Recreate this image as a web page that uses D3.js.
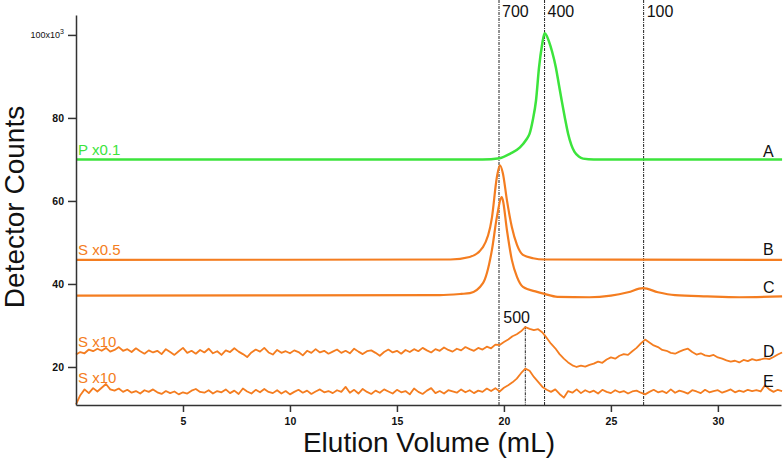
<!DOCTYPE html>
<html>
<head>
<meta charset="utf-8">
<script src="https://cdn.jsdelivr.net/npm/d3@7"></script>
<style>
  body { margin: 0; background: #fff; }
  svg { display: block; font-family: Arial, "Liberation Sans", sans-serif; }
  .tick text { font-size: 10.5px; font-weight: bold; fill: #111; }
  .tick line, .domain { stroke: #333; stroke-width: 1.5; }
</style>
</head>
<body>
<div id="chart"></div>
<script>
// elution volume (mL) / counts (x10^3)
const traceA = [[0, 70], [19.0, 70], [19.8, 70.3], [20.3, 71.4], [20.75, 72.9], [21.05, 74.8],
  [21.2, 76.2], [21.35, 79.5], [21.5, 84.2], [21.64, 92.1], [21.78, 97.5], [21.9, 100.4],
  [22.0, 99.8], [22.1, 98.5], [22.25, 96], [22.43, 92.1], [22.57, 88], [22.7, 84.2],
  [22.85, 80], [23.0, 76.2], [23.15, 73.5], [23.3, 71.8], [23.5, 70.7], [23.7, 70.2],
  [24.2, 70], [33, 70]];

const traceB = [[0, 45.8], [17.5, 45.9], [18.4, 46.5], [19.02, 48.9], [19.44, 56], [19.67, 65.7],
  [19.81, 68.6], [19.95, 66.7], [20.14, 60.2], [20.37, 53.7], [20.61, 49.4], [20.89, 47],
  [21.36, 46.2], [21.9, 45.9], [33, 45.8]];

const traceC = [[0, 37.2], [17.0, 37.3], [18.0, 37.6], [18.41, 37.8], [19.02, 40.2], [19.44, 48.2],
  [19.67, 56.1], [19.9, 60.9], [19.95, 60.2], [20.14, 53], [20.37, 45.8], [20.61, 41.7],
  [20.89, 39.3], [21.55, 38.1], [21.9, 37.6], [22.5, 36.9], [24.0, 36.8], [25.0, 37.2],
  [25.8, 38.0], [26.5, 39.0], [27.2, 38.0], [28.0, 37.3], [29.5, 37.0], [31.0, 36.8], [33, 37.0]];

// noisy traces sampled every 0.2 mL from 0 to 33
const noisyStep = 0.2;
const traceD = [
  23.0, 23.6, 23.3, 24.2, 23.8, 24.4, 23.9, 24.6, 23.7, 24.1,
  24.8, 23.9, 24.3, 23.6, 24.5, 23.8, 23.2, 24.0, 23.5, 23.9,
  23.1, 24.3, 23.6, 22.9, 23.8, 24.6, 23.4, 23.9, 23.2, 24.1,
  23.5, 24.4, 23.3, 23.8, 22.9, 24.0, 23.6, 24.5, 23.7, 23.1,
  22.4, 23.5, 24.2, 23.7, 24.6, 23.5, 23.0, 24.1, 23.4, 23.8,
  23.3, 24.0, 23.6, 22.8, 23.9, 23.4, 24.3, 23.5, 23.9, 23.2,
  23.7, 24.2, 23.4, 23.9, 23.3, 24.4, 23.7, 23.1, 23.8, 24.0,
  23.4, 22.7, 23.6, 24.2, 23.5, 23.9, 23.2, 24.1, 23.6, 24.3,
  23.8, 24.6, 24.0, 23.5, 24.3, 23.9, 24.7, 24.1, 23.7, 24.4,
  24.0, 24.8, 24.3, 23.9, 24.6, 24.2, 24.9, 24.5, 25.4, 25.3,
  26.0, 26.6, 27.4, 27.9, 28.6, 29.6, 29.2, 28.9, 29.1, 28.3,
  27.0, 25.6, 24.5, 23.1, 22.0, 21.1, 20.4, 20.0, 20.3, 20.1,
  20.5, 20.8, 21.3, 21.0, 21.8, 22.3, 22.0, 22.7, 23.1, 22.9,
  23.8, 24.6, 25.7, 26.6, 25.9, 25.2, 24.8, 24.1, 23.9, 23.4,
  23.2, 23.7, 24.1, 24.4, 23.6, 23.0, 23.3, 22.8, 22.6, 22.9,
  22.3, 22.0, 21.6, 21.3, 21.5, 21.1, 21.7, 21.4, 21.9, 21.6,
  21.8, 22.1, 21.9, 22.4, 23.0, 23.5];

const traceE = [
  11.0, 13.2, 14.6, 13.7, 14.9, 14.1, 15.0, 15.9, 14.6, 14.3,
  14.8, 14.0, 14.5, 13.8, 14.2, 13.6, 14.4, 14.0, 14.6, 13.9,
  13.5, 14.2, 13.7, 14.1, 13.4, 13.9, 13.6, 14.3, 14.7, 14.0,
  13.8, 14.4, 13.6, 14.2, 13.9, 14.6, 13.7, 14.3, 13.5, 14.8,
  14.1, 13.6, 14.5, 13.9, 14.7, 14.0, 13.7, 14.4, 13.6, 14.2,
  13.4, 14.0, 14.5, 13.8, 14.3, 13.5, 14.1, 14.6, 13.9, 14.2,
  13.7, 14.4, 14.0, 15.2, 13.8, 14.5, 13.6, 14.7, 14.0, 13.5,
  14.3, 13.8, 14.6, 14.1, 13.6, 14.5, 13.9, 14.2, 13.4, 14.8,
  14.0, 13.5, 14.3, 14.9, 13.7, 14.2, 13.6, 14.4, 14.1, 13.8,
  14.6, 13.9, 14.4, 13.7, 14.3, 14.0, 14.8, 14.2, 14.9, 14.1,
  15.0, 15.6, 16.3, 17.2, 18.5, 19.6, 19.1, 17.6, 16.4, 15.2,
  14.5, 14.0, 14.6, 13.5, 12.6, 14.2, 13.8, 14.6, 13.7, 14.4,
  13.9, 14.3, 13.6, 14.5, 14.0, 13.7, 14.4, 13.9, 14.2, 13.6,
  14.1, 14.3, 13.8, 13.4, 14.0, 14.5, 13.9, 14.2, 13.7, 14.6,
  13.8, 14.3, 14.0, 13.6, 14.4, 14.1, 13.7, 14.5, 13.9, 14.2,
  14.4, 13.8, 14.2, 14.6, 13.9, 14.3, 14.0, 14.5, 14.2, 14.4,
  14.1, 15.6, 14.6, 14.0, 14.5, 14.2];

const xTicks = [5, 10, 15, 20, 25, 30];
const yTicks = [20, 40, 60, 80, 100];

// molecular weight markers (kDa)
const markers = [
  { volume: 19.77, label: '700' },
  { volume: 21.9, label: '400' },
  { volume: 26.53, label: '100' }
];
const innerMarkers = [{ volume: 21.0, label: '500', top: 29.8 }];

const green = '#3ce43c';
const orange = '#f47d20';

const width = 784;
const height = 462;

const svg = d3.select('#chart')
  .append('svg')
  .attr('width', width)
  .attr('height', height);

const x = d3.scaleLinear().domain([0, 32.95]).range([76, 781]);
const y = d3.scaleLinear().domain([10.84, 104.8]).range([405, 15]);

// marker lines behind the traces
const dash = '3,1,1,1';
svg.append('g')
  .selectAll('line')
  .data(markers)
  .enter()
  .append('line')
  .attr('x1', d => x(d.volume))
  .attr('x2', d => x(d.volume))
  .attr('y1', 0)
  .attr('y2', y.range()[0])
  .attr('stroke', '#222')
  .attr('stroke-width', 1)
  .attr('stroke-dasharray', dash);

svg.append('g')
  .selectAll('text')
  .data(markers)
  .enter()
  .append('text')
  .attr('x', d => x(d.volume) + 3)
  .attr('y', 17)
  .attr('font-size', 16)
  .attr('fill', '#111')
  .text(d => d.label);

svg.append('g')
  .selectAll('line')
  .data(innerMarkers)
  .enter()
  .append('line')
  .attr('x1', d => x(d.volume))
  .attr('x2', d => x(d.volume))
  .attr('y1', d => y(d.top))
  .attr('y2', y.range()[0])
  .attr('stroke', '#222')
  .attr('stroke-width', 1)
  .attr('stroke-dasharray', dash);

svg.append('g')
  .selectAll('text')
  .data(innerMarkers)
  .enter()
  .append('text')
  .attr('x', d => x(d.volume) - 22)
  .attr('y', 323)
  .attr('font-size', 16)
  .attr('fill', '#111')
  .text(d => d.label);

// traces
const smoothLine = d3.line()
  .x(d => x(d[0]))
  .y(d => y(d[1]))
  .curve(d3.curveMonotoneX);

const noisyLine = d3.line()
  .x((d, i) => x(i * noisyStep))
  .y(d => y(d));

const traces = svg.append('g');

traces.append('path')
  .attr('d', smoothLine(traceA))
  .attr('fill', 'none')
  .attr('stroke', green)
  .attr('stroke-width', 2.5);

[traceB, traceC].forEach(trace => {
  traces.append('path')
    .attr('d', smoothLine(trace))
    .attr('fill', 'none')
    .attr('stroke', orange)
    .attr('stroke-width', 2.2);
});

[traceD, traceE].forEach(trace => {
  traces.append('path')
    .attr('d', noisyLine(trace))
    .attr('fill', 'none')
    .attr('stroke', orange)
    .attr('stroke-width', 1.8)
    .attr('stroke-linejoin', 'round');
});

// axes
const yAxis = svg.append('g')
  .attr('transform', `translate(${x.range()[0]},0)`)
  .call(d3.axisLeft(y)
    .tickValues(yTicks)
    .tickSize(8)
    .tickSizeOuter(0)
    .tickPadding(4));

yAxis.selectAll('.tick text')
  .filter(d => d === 100)
  .text('100x10')
  .style('font-weight', 'normal')
  .style('font-size', '9px')
  .append('tspan')
  .attr('dy', -4)
  .style('font-size', '7px')
  .text('3');

svg.append('g')
  .attr('transform', `translate(0,${y.range()[0]})`)
  .call(d3.axisBottom(x)
    .tickValues(xTicks)
    .tickSize(7)
    .tickSizeOuter(0)
    .tickPadding(6));

// axis titles
svg.append('text')
  .attr('x', 429)
  .attr('y', 452)
  .attr('text-anchor', 'middle')
  .attr('font-size', 28)
  .attr('fill', '#111')
  .text('Elution Volume (mL)');

svg.append('text')
  .attr('transform', 'translate(24,207) rotate(-90)')
  .attr('text-anchor', 'middle')
  .attr('font-size', 28)
  .attr('fill', '#111')
  .text('Detector Counts');

// trace labels
const leftLabels = [
  { text: 'P x0.1', y: 155, color: green },
  { text: 'S x0.5', y: 255, color: orange },
  { text: 'S x10', y: 347, color: orange },
  { text: 'S x10', y: 383, color: orange }
];
svg.append('g')
  .selectAll('text')
  .data(leftLabels)
  .enter()
  .append('text')
  .attr('x', 78)
  .attr('y', d => d.y)
  .attr('font-size', 15)
  .attr('fill', d => d.color)
  .text(d => d.text);

const rightLabels = [
  { text: 'A', y: 157 },
  { text: 'B', y: 255 },
  { text: 'C', y: 293 },
  { text: 'D', y: 357 },
  { text: 'E', y: 387 }
];
svg.append('g')
  .selectAll('text')
  .data(rightLabels)
  .enter()
  .append('text')
  .attr('x', 763)
  .attr('y', d => d.y)
  .attr('font-size', 16)
  .attr('fill', '#111')
  .text(d => d.text);
</script>
</body>
</html>
